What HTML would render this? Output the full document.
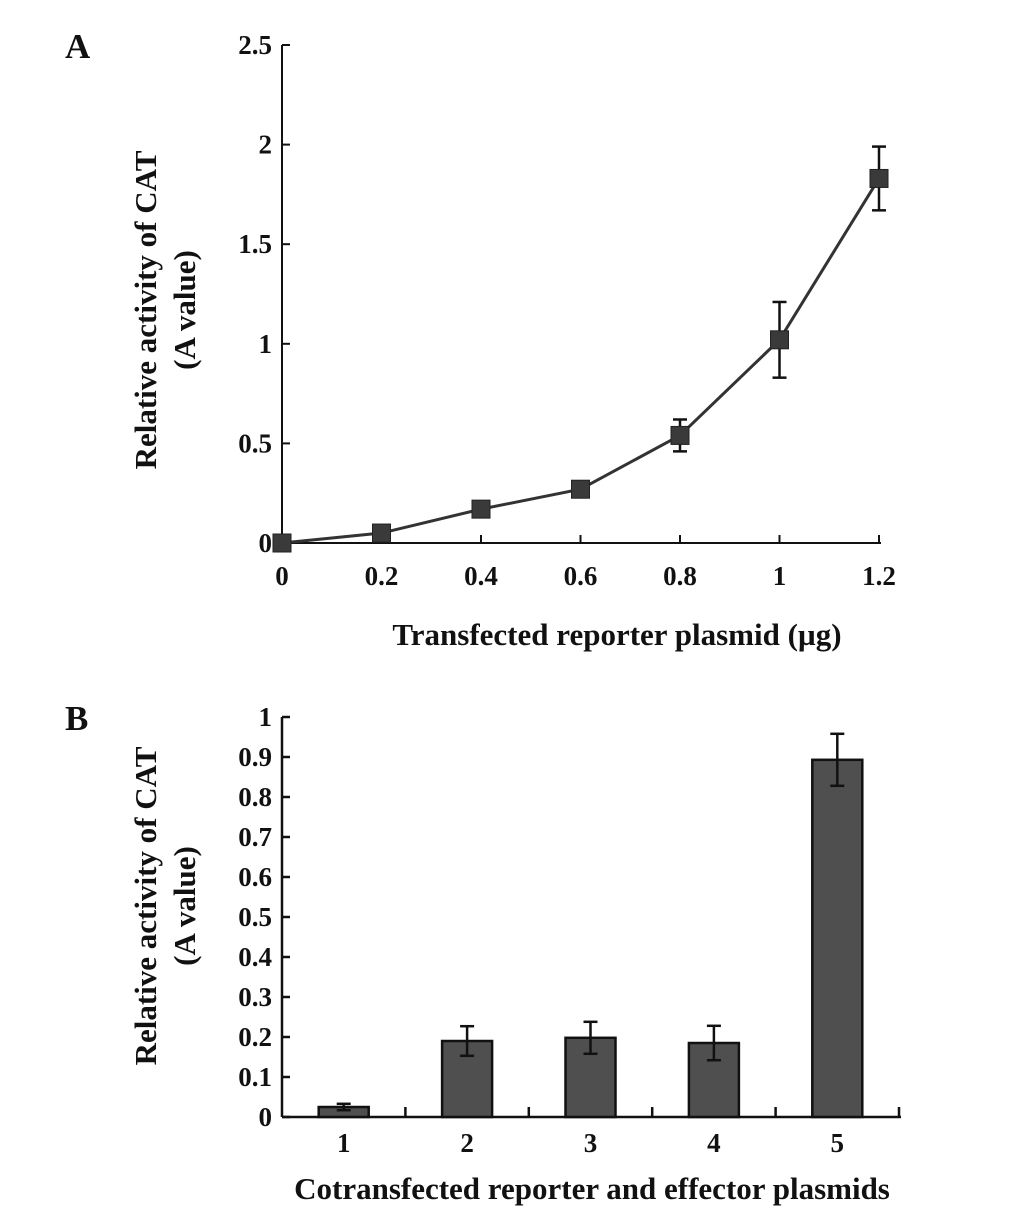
<!DOCTYPE html>
<html><head><meta charset="utf-8"><style>
html,body{margin:0;padding:0;background:#fff}
svg{display:block}
text{font-family:"Liberation Serif",serif;font-weight:bold;fill:#111}
</style></head><body>
<svg id="c" width="1033" height="1215" viewBox="0 0 1033 1215"></svg>
<script>
const xsA=[0,0.2,0.4,0.6,0.8,1,1.2];
const ysA=[0,0.05,0.17,0.27,0.54,1.02,1.83];
const errA=[0,0.01,0.01,0.01,0.08,0.19,0.16];
const yTicksA=[0,0.5,1,1.5,2,2.5];
const yTickLabelsA=["0","0.5","1","1.5","2","2.5"];
const xTickLabelsA=["0","0.2","0.4","0.6","0.8","1","1.2"];
const catsB=["1","2","3","4","5"];
const valsB=[0.025,0.19,0.198,0.185,0.893];
const errB=[0.008,0.037,0.04,0.043,0.065];
const yTicksB=[0,0.1,0.2,0.3,0.4,0.5,0.6,0.7,0.8,0.9,1];

const svg=document.getElementById('c');
const NS='http://www.w3.org/2000/svg';
function mk(t,a,txt){const e=document.createElementNS(NS,t);for(const k in a)e.setAttribute(k,a[k]);if(txt!==undefined)e.textContent=txt;svg.appendChild(e);return e;}
const TF=27, TT=31;

// Chart A
const ax0=282,ax1=879,ay0=543,ay1=45;
const xA=v=>ax0+(v/1.2)*(ax1-ax0);
const yA=v=>ay0-(v/2.5)*(ay0-ay1);
let e;
e=mk('text',{x:65,y:58,'font-size':35});e.textContent='A';


e=mk('line',{x1:ax0,y1:ay1,x2:ax0,y2:ay0,stroke:'#111','stroke-width':2});


e=mk('line',{x1:ax0,y1:ay0,x2:ax1+2,y2:ay0,stroke:'#111','stroke-width':2});


yTicksA.forEach((v,i)=>{
  mk('line',{x1:ax0,y1:yA(v),x2:ax0+8,y2:yA(v),stroke:'#111','stroke-width':2});
  e=mk('text',{x:ax0-10,y:yA(v)+9,'font-size':TF,'text-anchor':'end'},yTickLabelsA[i]);
  
  
});
xsA.forEach((v,i)=>{
  mk('line',{x1:xA(v),y1:ay0,x2:xA(v),y2:ay0-8,stroke:'#111','stroke-width':2});
  e=mk('text',{x:xA(v),y:ay0+42,'font-size':TF,'text-anchor':'middle'},xTickLabelsA[i]);
  
  
});
e=mk('polyline',{points:xsA.map((v,i)=>xA(v)+','+yA(ysA[i])).join(' '),fill:'none',stroke:'#333','stroke-width':3});


xsA.forEach((v,i)=>{
  if(errA[i]>0.03){
    const x=xA(v);
    mk('line',{x1:x,y1:yA(ysA[i]+errA[i]),x2:x,y2:yA(ysA[i]-errA[i]),stroke:'#111','stroke-width':2.5});
    mk('line',{x1:x-7,y1:yA(ysA[i]+errA[i]),x2:x+7,y2:yA(ysA[i]+errA[i]),stroke:'#111','stroke-width':2.5});
    mk('line',{x1:x-7,y1:yA(ysA[i]-errA[i]),x2:x+7,y2:yA(ysA[i]-errA[i]),stroke:'#111','stroke-width':2.5});
  }
  e=mk('rect',{x:xA(v)-9,y:yA(ysA[i])-9,width:18,height:18,fill:'#3a3a3a',stroke:'#222','stroke-width':1});
  
  
});
e=mk('text',{x:617,y:645,'font-size':TT,'text-anchor':'middle'},'Transfected reporter plasmid (µg)');


e=mk('text',{transform:'translate(156,310) rotate(-90)','font-size':TT,'text-anchor':'middle'},'Relative activity of CAT');


e=mk('text',{transform:'translate(195,310) rotate(-90)','font-size':TT,'text-anchor':'middle'},'(A value)');



// Chart B
const bx0=282,bx1=899,by0=1117,by1=717;
const band=(bx1-bx0)/catsB.length;
const xB=i=>bx0+band*(i+0.5);
const yB=v=>by0-v*(by0-by1);
e=mk('text',{x:65,y:730,'font-size':35},'B');


e=mk('line',{x1:bx0,y1:by1,x2:bx0,y2:by0,stroke:'#111','stroke-width':2.5});


e=mk('line',{x1:bx0,y1:by0,x2:bx1+2,y2:by0,stroke:'#111','stroke-width':2.5});


yTicksB.forEach(v=>{
  mk('line',{x1:bx0,y1:yB(v),x2:bx0+8,y2:yB(v),stroke:'#111','stroke-width':2.5});
  e=mk('text',{x:bx0-10,y:yB(v)+9,'font-size':TF,'text-anchor':'end'},String(v));
  
  
});
for(let i=1;i<=catsB.length;i++){
  mk('line',{x1:bx0+band*i,y1:by0,x2:bx0+band*i,y2:by0-10,stroke:'#111','stroke-width':2.5});
}
catsB.forEach((c,i)=>{
  const x=xB(i);
  e=mk('rect',{x:x-25,y:yB(valsB[i]),width:50,height:by0-yB(valsB[i]),fill:'#4f4f4f',stroke:'#111','stroke-width':2.5});
  
  
  const t=yB(valsB[i]+errB[i]),b=yB(valsB[i]-errB[i]);
  mk('line',{x1:x,y1:t,x2:x,y2:b,stroke:'#111','stroke-width':2.5});
  mk('line',{x1:x-7,y1:t,x2:x+7,y2:t,stroke:'#111','stroke-width':2.5});
  mk('line',{x1:x-7,y1:b,x2:x+7,y2:b,stroke:'#111','stroke-width':2.5});
  e=mk('text',{x:x,y:by0+35,'font-size':TF,'text-anchor':'middle'},c);
  
  
});
e=mk('text',{x:592,y:1199,'font-size':TT,'text-anchor':'middle'},'Cotransfected reporter and effector plasmids');


e=mk('text',{transform:'translate(156,906) rotate(-90)','font-size':TT,'text-anchor':'middle'},'Relative activity of CAT');


e=mk('text',{transform:'translate(195,906) rotate(-90)','font-size':TT,'text-anchor':'middle'},'(A value)');


</script>
</body></html>
